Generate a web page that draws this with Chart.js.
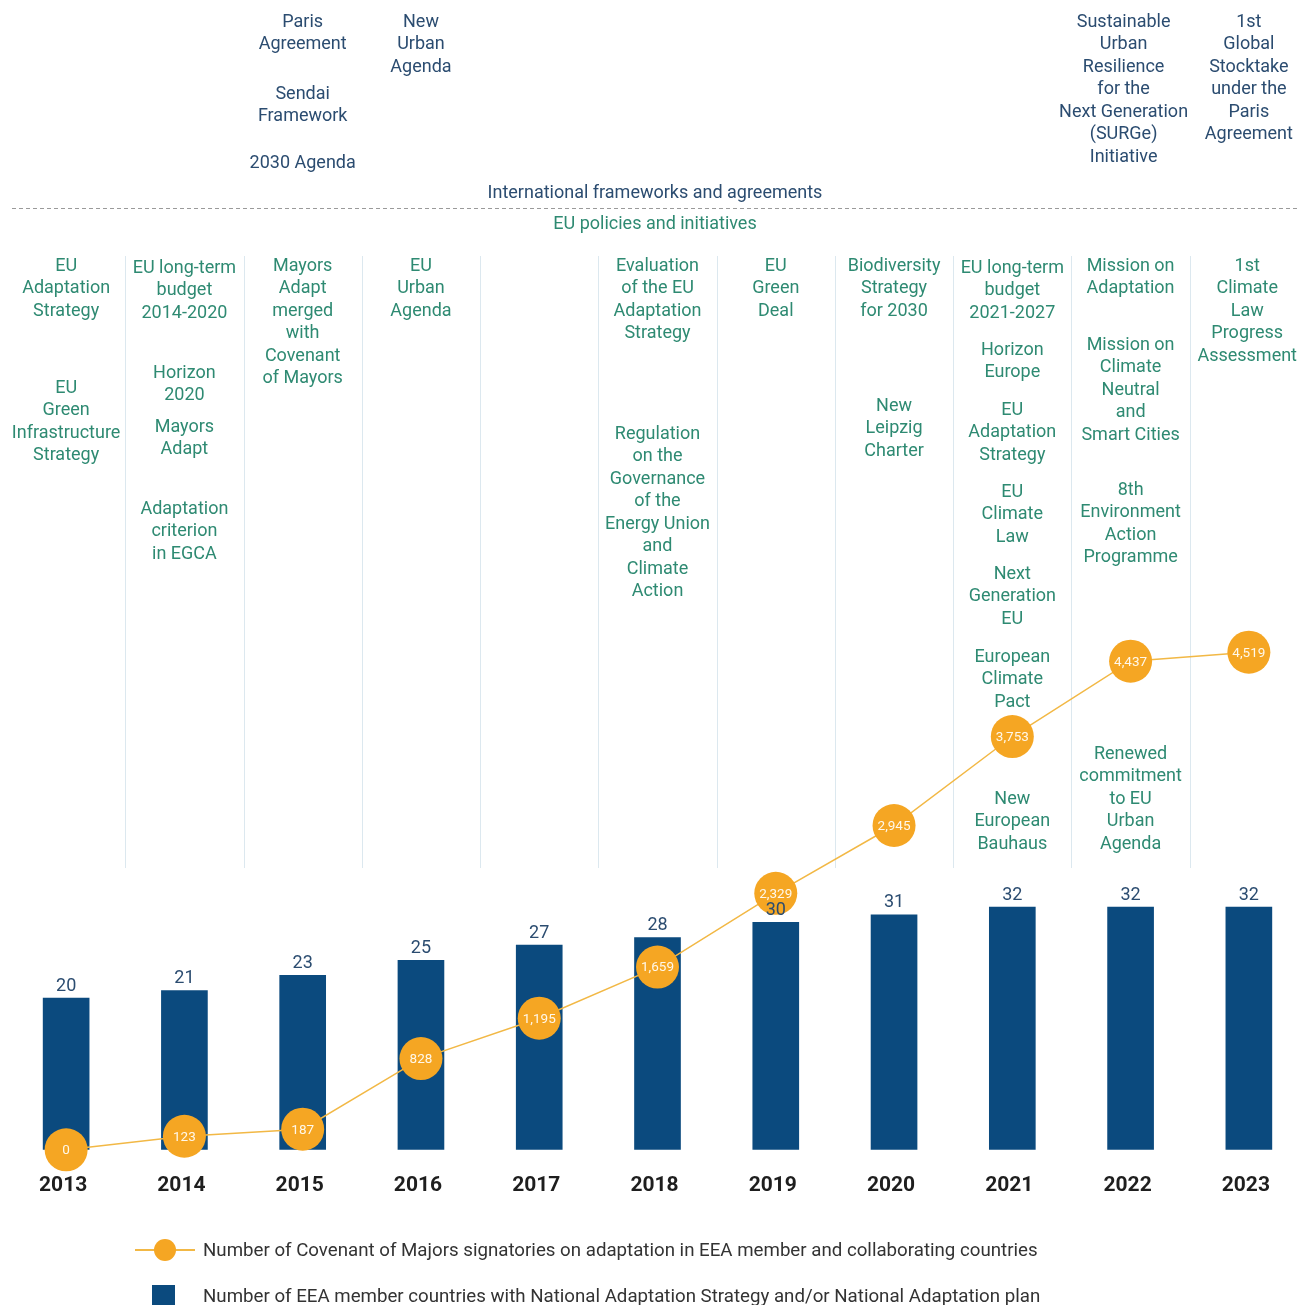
<!DOCTYPE html>
<html><head><meta charset="utf-8">
<script src="https://cdn.jsdelivr.net/npm/chart.js@4"></script>
<style>
html,body{margin:0;padding:0;background:#fff;overflow:hidden;width:1298px;height:1305px}
#wrap{width:1298px;height:1305px;overflow:hidden;position:relative}
canvas{display:block}
</style></head>
<body><div id="wrap"><canvas id="c" width="1310" height="1305"></canvas></div>
<script>
// ---------- DATA ----------
const years = ['2013','2014','2015','2016','2017','2018','2019','2020','2021','2022','2023'];
const countriesWithPlan = [20,21,23,25,27,28,30,31,32,32,32];
const signatories = [0,123,187,828,1195,1659,2329,2945,3753,4437,4519];
const lineLabel = 'Number of Covenant of Majors signatories on adaptation in EEA member and collaborating countries';
const barLabel = 'Number of EEA member countries with National Adaptation Strategy and/or National Adaptation plan';
const sectionLabels = ['International frameworks and agreements','EU policies and initiatives'];
const intlEvents = [
  [], [],
  [['Paris','Agreement'],['Sendai','Framework'],['2030 Agenda']],
  [['New','Urban','Agenda']],
  [], [], [], [], [],
  [['Sustainable','Urban','Resilience','for the','Next Generation','(SURGe)','Initiative']],
  [['1st','Global','Stocktake','under the','Paris','Agreement']]
];
const euEvents = [
  [['EU','Adaptation','Strategy'],['EU','Green','Infrastructure','Strategy']],
  [['EU long-term','budget','2014-2020'],['Horizon','2020'],['Mayors','Adapt'],['Adaptation','criterion','in EGCA']],
  [['Mayors','Adapt','merged','with','Covenant','of Mayors']],
  [['EU','Urban','Agenda']],
  [],
  [['Evaluation','of the EU','Adaptation','Strategy'],['Regulation','on the','Governance','of the','Energy Union','and','Climate','Action']],
  [['EU','Green','Deal']],
  [['Biodiversity','Strategy','for 2030'],['New','Leipzig','Charter']],
  [['EU long-term','budget','2021-2027'],['Horizon','Europe'],['EU','Adaptation','Strategy'],['EU','Climate','Law'],['Next','Generation','EU'],['European','Climate','Pact'],['New','European','Bauhaus']],
  [['Mission on','Adaptation'],['Mission on','Climate','Neutral','and','Smart Cities'],['8th','Environment','Action','Programme'],['Renewed','commitment','to EU','Urban','Agenda']],
  [['1st','Climate','Law','Progress','Assessment']]
];

// ---------- LAYOUT / STYLE ----------
const intlTops = [[],[],[20,92,161],[20],[],[],[],[],[],[20],[20]];
const intlShift = [0,0,0,0,0,0,0,0,0,-7,0];
const euTops = [[264,386],[266,371,425,507],[264],[264],[],[264,432],[264],[264,404],[266,348,408,490,572,655,797],[264,343,488,752],[264]];
const LH = 22.5, TY = 2;
const C = {bar:'#0b4a7e', point:'#f5a623', line:'#f2b845', intl:'#2b4c70', eu:'#2e8a72', divider:'#dce8ef', dash:'#9a9a9a', year:'#1e1e1e', legend:'#333333', barLabel:'#2b4c70'};
const FONT = 'Roboto';
Chart.defaults.font.family = FONT;

const decorPlugin = {
  id: 'decor',
  beforeDatasetsDraw(chart) {
    const ctx = chart.ctx, xs = chart.scales.x;
    ctx.save();
    ctx.strokeStyle = C.divider; ctx.lineWidth = 1;
    for (let i = 0; i < years.length - 1; i++) {
      const xm = Math.round((xs.getPixelForValue(i) + xs.getPixelForValue(i + 1)) / 2) + 0.5;
      ctx.beginPath(); ctx.moveTo(xm, 256); ctx.lineTo(xm, 868); ctx.stroke();
    }
    ctx.strokeStyle = C.dash; ctx.setLineDash([4,3]);
    ctx.beginPath(); ctx.moveTo(12, 208.5); ctx.lineTo(1298, 208.5); ctx.stroke();
    ctx.setLineDash([]);
    ctx.textAlign = 'center'; ctx.textBaseline = 'middle';
    ctx.font = '18px ' + FONT;
    ctx.fillStyle = C.intl; ctx.fillText(sectionLabels[0], 655, 191 + TY);
    ctx.fillStyle = C.eu; ctx.fillText(sectionLabels[1], 655, 222 + TY);
    const drawCol = (events, tops, color, shift) => {
      ctx.fillStyle = color;
      events.forEach((items, i) => {
        const cx0 = xs.getPixelForValue(i) + (shift ? shift[i] : 0);
        items.forEach((lines, k) => {
          const maxW = Math.max(...lines.map(l => ctx.measureText(l).width));
          const cx = Math.min(cx0, 1297 - maxW / 2);
          lines.forEach((t, j) => ctx.fillText(t, cx, tops[i][k] + j * LH + TY));
        });
      });
    };
    drawCol(intlEvents, intlTops, C.intl, intlShift);
    drawCol(euEvents, euTops, C.eu, null);
    ctx.restore();
  },
  afterDatasetsDraw(chart) {
    const ctx = chart.ctx;
    ctx.save();
    ctx.textAlign = 'center'; ctx.textBaseline = 'middle';
    const lineMeta = chart.getDatasetMeta(0);
    ctx.font = '13.5px ' + FONT; ctx.fillStyle = '#fff8ea';
    lineMeta.data.forEach((el, i) => ctx.fillText(signatories[i].toLocaleString('en-US'), el.x, el.y + 1));
    const barMeta = chart.getDatasetMeta(1);
    ctx.font = '18px ' + FONT; ctx.fillStyle = C.barLabel;
    barMeta.data.forEach((el, i) => ctx.fillText(String(countriesWithPlan[i]), el.x, el.y - 12));
    ctx.textAlign = 'left';
    ctx.strokeStyle = C.line; ctx.lineWidth = 2;
    ctx.beginPath(); ctx.moveTo(135, 1250); ctx.lineTo(195, 1250); ctx.stroke();
    ctx.fillStyle = C.point; ctx.beginPath(); ctx.arc(165, 1250, 11, 0, Math.PI * 2); ctx.fill();
    ctx.fillStyle = C.bar; ctx.fillRect(152, 1285, 23, 23);
    ctx.font = '18.7px ' + FONT; ctx.fillStyle = C.legend;
    ctx.fillText(chart.data.datasets[0].label, 203, 1251);
    ctx.fillText(chart.data.datasets[1].label, 203, 1297);
    ctx.restore();
  }
};

new Chart(document.getElementById('c'), {
  data: {
    labels: years,
    datasets: [
      { type:'line', label: lineLabel, data: signatories, yAxisID:'y2', order:0,
        borderColor: C.line, borderWidth: 1.5, pointRadius: 21.5, pointHoverRadius: 21.5,
        pointBackgroundColor: C.point, pointBorderWidth: 0, fill:false, tension:0, clip:false },
      { type:'bar', label: barLabel, data: countriesWithPlan, yAxisID:'y', order:1,
        backgroundColor: C.bar, barThickness: 46, borderWidth: 0 }
    ]
  },
  options: {
    responsive: false, animation: false,
    layout: { autoPadding: false, padding: { left: 7, right: 2, top: 240, bottom: 84 } },
    plugins: { legend: { display:false }, tooltip: { enabled:false } },
    scales: {
      x: { offset: true, grid: { display:false, drawTicks:false }, border: { display:false },
           ticks: { padding: 23, labelOffset: -3, color: C.year, font: { size: 21, weight: 'bold' } } },
      y: { display:false, min:0, max:120 },
      y2: { display:false, min:0, max:8262 }
    }
  },
  plugins: [decorPlugin]
});
</script>
</body></html>
